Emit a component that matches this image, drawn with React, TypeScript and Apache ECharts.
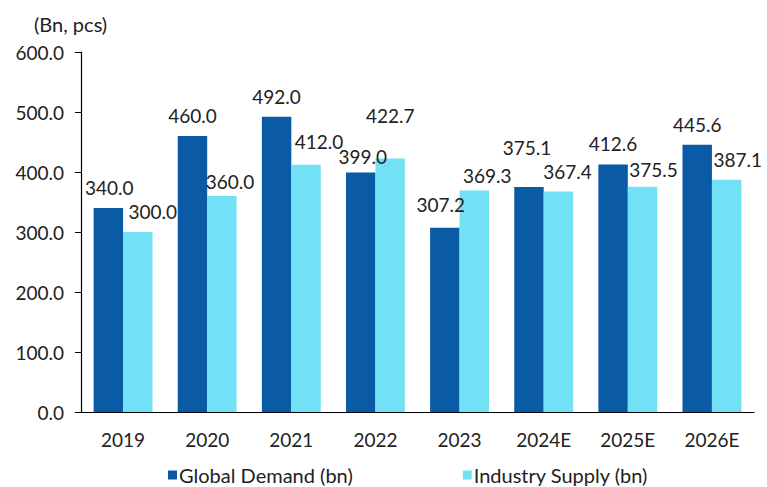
import React, { useEffect, useRef } from "react";
import * as echarts from "echarts";

const categories = ["2019", "2020", "2021", "2022", "2023", "2024E", "2025E", "2026E"];
const globalDemand = [340.0, 460.0, 492.0, 399.0, 307.2, 375.1, 412.6, 445.6];
const industrySupply = [300.0, 360.0, 412.0, 422.7, 369.3, 367.4, 375.5, 387.1];
const seriesNames = ["Global Demand (bn)", "Industry Supply (bn)"];
const unitLabel = "(Bn, pcs)";

// label nudges [dx, dy] to mimic the original label placement
const demandLabelNudge = [[1, 0], [0, 0], [0, 0], [2, 4], [-4, -3], [-2, -19], [0, 0], [0, 0]];
const supplyLabelNudge = [[15, 0], [8, 6], [13, -3], [0, -22], [13, 6], [9, 0], [11, 3], [11, 0]];

const FONT = "Lato";
const DARK = "#0B5AA6";
const LIGHT = "#73E1F5";

export default function App() {
  const ref = useRef<HTMLDivElement>(null);
  useEffect(() => {
    if (!ref.current) return;
    const chart = echarts.init(ref.current, null, { renderer: "svg" });
    const mk = (vals: number[], nudge: number[][]) =>
      vals.map((v, i) => ({
        value: v,
        label: { offset: [nudge[i][0], nudge[i][1]] },
      }));
    const labelCfg = {
      show: true,
      position: "top",
      distance: 11,
      fontFamily: FONT,
      fontSize: 19,
      color: "#222",
      formatter: (p: any) => Number(p.value).toFixed(1),
    };
    chart.setOption({
      animation: false,
      textStyle: { fontFamily: FONT },
      grid: { left: 81, right: 13, top: 52, bottom: 75, containLabel: false },
      graphic: [
        {
          type: "text",
          left: 34,
          top: 14,
          style: { text: unitLabel, fontFamily: FONT, fontSize: 20, fill: "#222" },
        },
      ],
      legend: {
        bottom: -3,
        left: 163,
        itemWidth: 9,
        itemHeight: 9,
        itemGap: 110,
        icon: "rect",
        textStyle: { fontFamily: FONT, fontSize: 20, color: "#222", padding: [0, 0, 0, -3] },
        data: seriesNames,
      },
      xAxis: {
        type: "category",
        data: categories,
        axisLine: { lineStyle: { color: "#000", width: 1.2 } },
        axisTick: { show: false },
        axisLabel: { fontFamily: FONT, fontSize: 19, color: "#222", margin: 18 },
      },
      yAxis: {
        type: "value",
        min: 0,
        max: 600,
        interval: 100,
        axisLine: { show: true, lineStyle: { color: "#000", width: 1.2 } },
        axisTick: { show: true, length: 6, lineStyle: { color: "#000" } },
        splitLine: { show: false },
        axisLabel: {
          fontFamily: FONT,
          fontSize: 19,
          color: "#222",
          margin: 17,
          formatter: (v: number) => v.toFixed(1),
        },
      },
      series: [
        {
          name: seriesNames[0],
          type: "bar",
          data: mk(globalDemand, demandLabelNudge),
          itemStyle: { color: DARK },
          barGap: "0%",
          barCategoryGap: "30%",
          label: labelCfg,
        },
        {
          name: seriesNames[1],
          type: "bar",
          data: mk(industrySupply, supplyLabelNudge),
          itemStyle: { color: LIGHT },
          barGap: "0%",
          barCategoryGap: "30%",
          label: labelCfg,
        },
      ],
    });
    return () => chart.dispose();
  }, []);
  return <div ref={ref} style={{ width: 767, height: 487, position: "absolute", left: 0, top: 0 }} />;
}
